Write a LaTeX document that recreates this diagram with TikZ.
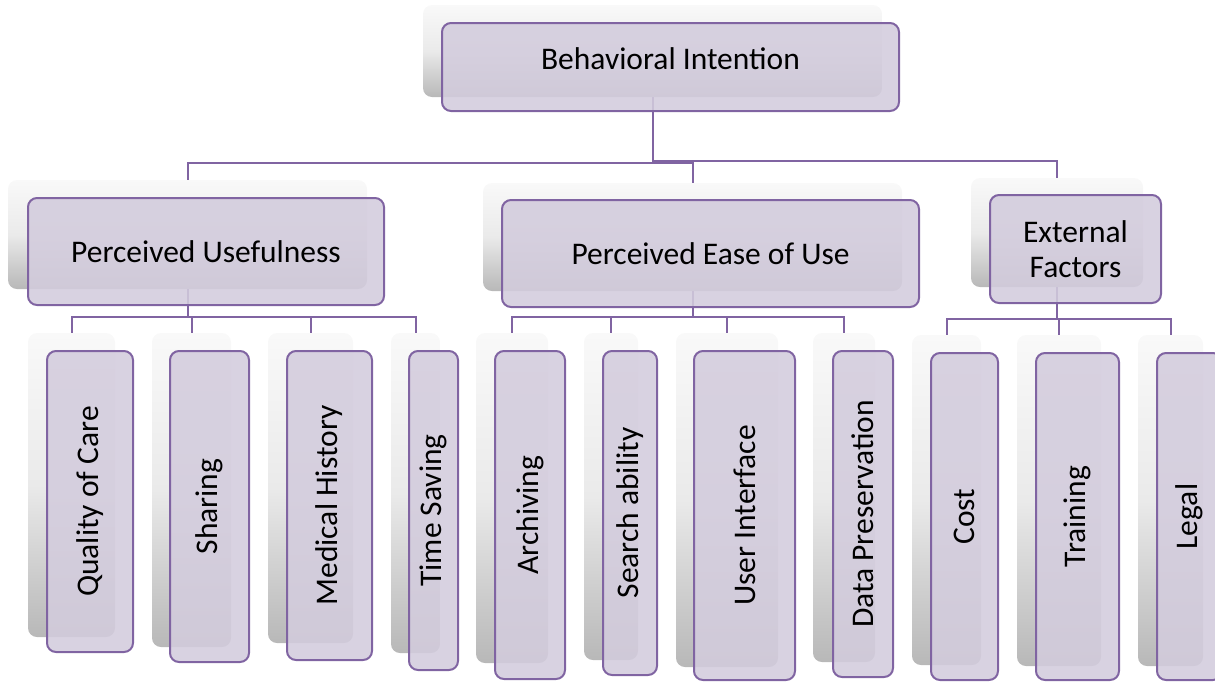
\documentclass[tikz,border=0pt]{standalone}
\usepackage{fontspec}
\setmainfont{Carlito}
\usepackage{graphicx}
\definecolor{bord}{RGB}{128,100,162}
\definecolor{boxfill}{RGB}{211,204,221}
\definecolor{shtop}{RGB}{249,249,249}
\definecolor{shmid}{RGB}{234,234,234}
\definecolor{shbot}{RGB}{184,184,184}
\tikzset{
  shadowbox/.style={rounded corners=9pt, top color=shtop, bottom color=shbot, middle color=shmid, draw=none, inner sep=0pt, outer sep=0pt},
  frontbox/.style={rounded corners=9pt, draw=bord, line width=2pt, fill=boxfill, fill opacity=0.88, text opacity=1, inner sep=0pt, outer sep=0pt, font=\fontsize{31.5}{35}\selectfont, align=center},
  conn/.style={draw=bord, line width=2pt}
}
\newcommand\mkshadow[5]{\node[shadowbox, minimum width={#4-#2}, minimum height={#5-#3}] (#1) at ({(#2+#4)/2},{(#3+#5)/2}) {};}
\newcommand\mkfront[6]{\node[frontbox, minimum width={#4-#2}, minimum height={#5-#3}] (#1) at ({(#2+#4)/2},{(#3+#5)/2}) {#6};}
\begin{document}
\begin{tikzpicture}[x=1pt,y=-1pt]
\useasboundingbox (0,0) rectangle (1215,681);
\clip (0,0) rectangle (1215,681);
% shadows
\mkshadow{bis}{423}{5}{882}{97}
\mkshadow{pus}{8}{180}{367}{289}
\mkshadow{pes}{483}{183}{902}{291}
\mkshadow{efs}{971}{178}{1143}{287}
\mkshadow{qcs}{28}{333}{115}{637}
\mkshadow{shs}{152}{333}{231}{647}
\mkshadow{mhs}{268}{333}{353}{643}
\mkshadow{tss}{391}{333}{440}{653}
\mkshadow{ars}{476}{333}{548}{663}
\mkshadow{sas}{584}{333}{638}{660}
\mkshadow{uis}{676}{333}{778}{667}
\mkshadow{dps}{813}{333}{875}{662}
\mkshadow{cos}{912}{335}{981}{665}
\mkshadow{trs}{1017}{335}{1101}{666}
\mkshadow{les}{1138}{335}{1203}{666}
% connectors
\draw[conn] (bis.south) -- (bis.south |- 0,163) -| (pus.north);
\draw[conn] (bis.south) -- (bis.south |- 0,163) -| (pes.north);
\draw[conn] (bis.south) -- (bis.south |- 0,161) -| (efs.north);
\foreach \c in {qcs,shs,mhs,tss}{\draw[conn] (pus.south) -- (pus.south |- 0,317) -| (\c.north);}
\foreach \c in {ars,sas,uis,dps}{\draw[conn] (pes.south) -- (pes.south |- 0,317) -| (\c.north);}
\foreach \c in {cos,trs,les}{\draw[conn] (efs.south) -- (efs.south |- 0,319) -| (\c.north);}
% front boxes
\mkfront{bi}{442}{23}{899}{111}{\raisebox{8pt}[\height][\depth]{Behavioral Intention}}
\mkfront{pu}{28}{198}{384}{305}{Perceived Usefulness}
\mkfront{pe}{502}{200}{919}{307}{Perceived Ease of Use}
\mkfront{ef}{990}{195}{1161}{303}{External\\Factors}
\mkfront{qc}{47}{351}{133}{652}{\rotatebox{90}{Quality of Care}}
\mkfront{sh}{170}{351}{249}{662}{\rotatebox{90}{Sharing}}
\mkfront{mh}{287}{351}{372}{660}{\rotatebox{90}{Medical History}}
\mkfront{ts}{409}{351}{458}{670}{\rotatebox{90}{Time Saving}}
\mkfront{ar}{495}{351}{565}{679}{\rotatebox{90}{Archiving}}
\mkfront{sa}{603}{351}{657}{675}{\rotatebox{90}{Search ability}}
\mkfront{ui}{694}{351}{795}{680}{\rotatebox{90}{User Interface}}
\mkfront{dp}{833}{351}{893}{677}{\rotatebox{90}{Data Preservation}}
\mkfront{co}{931}{353}{998}{680}{\rotatebox{90}{Cost}}
\mkfront{tr}{1036}{353}{1119}{680}{\rotatebox{90}{Training}}
\mkfront{le}{1157}{353}{1222}{680}{\rotatebox{90}{Legal}}
\end{tikzpicture}
\end{document}
